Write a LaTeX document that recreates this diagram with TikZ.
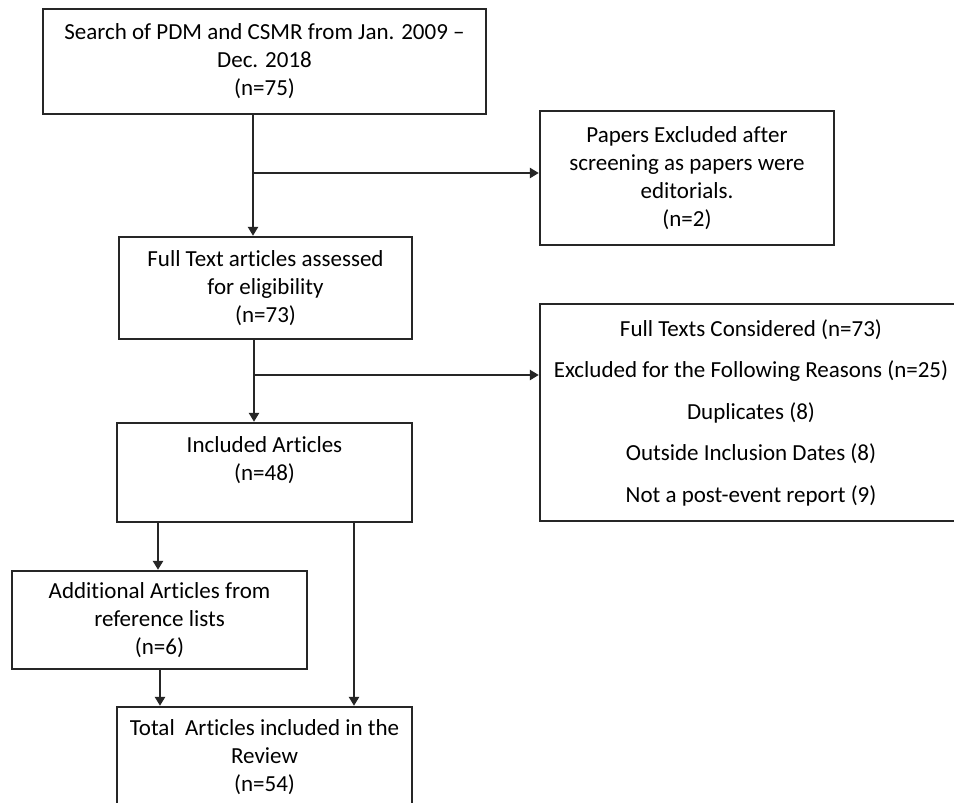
\documentclass[tikz,border=0pt]{standalone}
\usepackage{fontspec}
\setmainfont{Carlito}[Ligatures=NoCommon]
\usetikzlibrary{arrows.meta}
\begin{document}
\begin{tikzpicture}[x=1pt,y=-1pt,
  box/.style={draw=black!85, line width=2.3pt, rectangle, align=center, inner sep=0pt,
    text=black, font=\fontsize{23}{28}\selectfont},
  conn/.style={draw=black!85, line width=2.3pt},
  arr/.style={conn, -{Triangle[length=9pt,width=10pt]}}]
\clip (0,0) rectangle (954,803);
\fill[white] (0,0) rectangle (954,803);
\node[box, minimum width=443, minimum height=105] (search) at (264.5,61.5)
  {Search of PDM and CSMR from Jan. 2009 --\\Dec. 2018\\(n=75)};
\node[box, minimum width=293, minimum height=102] (full) at (265.5,288)
  {Full Text articles assessed\\for eligibility\\(n=73)};
\node[box, minimum width=295, minimum height=99] (incl) at (264.5,472.5)
  {Included Articles\\(n=48)\\\mbox{}};
\node[box, minimum width=295, minimum height=98] (addl) at (159.5,620)
  {Additional Articles from\\reference lists\\(n=6)};
\node[box, minimum width=295, minimum height=101] (total) at (264.5,757.5)
  {Total\ \ Articles included in the\\Review\\(n=54)};
\node[box, minimum width=294, minimum height=134] (papers) at (687,178)
  {Papers Excluded after\\screening as papers were\\editorials.\\(n=2)};
\node[box, minimum width=422, minimum height=217, font=\fontsize{23}{41.5}\selectfont] (texts) at (751,412.5)
  {Full Texts Considered (n=73)\\Excluded for the Following Reasons (n=25)\\Duplicates (8)\\Outside Inclusion Dates (8)\\Not a post-event report (9)};
% connectors
\coordinate (j1) at (253,173);
\coordinate (j2) at (254,375);
\coordinate (c3a) at (158,0);
\coordinate (c3b) at (354,0);
\coordinate (c4) at (160,0);
\draw[arr] (search.south -| j1) -- (full.north -| j1);
\draw[arr] (j1) -- (j1 -| papers.west);
\draw[arr] (full.south -| j2) -- (incl.north -| j2);
\draw[arr] (j2) -- (j2 -| texts.west);
\draw[arr] (incl.south -| c3a) -- (addl.north -| c3a);
\draw[arr] (incl.south -| c3b) -- (total.north -| c3b);
\draw[arr] (addl.south -| c4) -- (total.north -| c4);
\end{tikzpicture}
\end{document}
